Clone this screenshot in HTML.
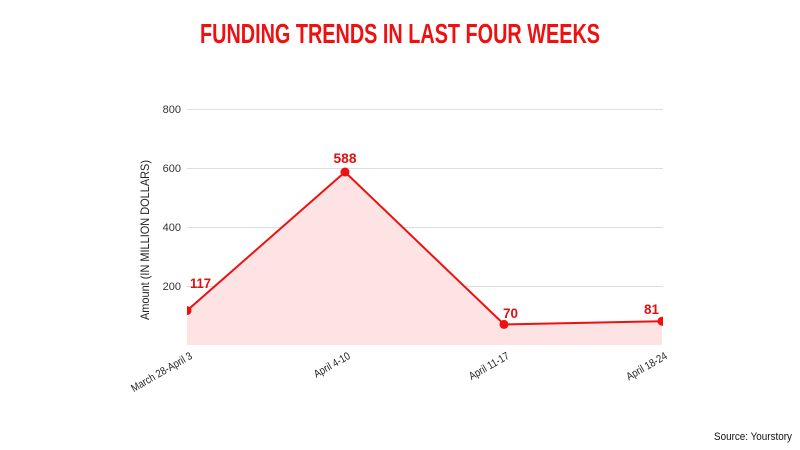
<!DOCTYPE html>
<html><head><meta charset="utf-8"><style>body{margin:0;background:#fff}svg{display:block}</style></head>
<body>
<svg width="800" height="450" xmlns="http://www.w3.org/2000/svg" font-family="Liberation Sans, sans-serif">
<rect width="800" height="450" fill="#fff"/>
<text x="400" y="43" text-anchor="middle" font-size="28" font-weight="bold" fill="#ee1111" textLength="400" lengthAdjust="spacingAndGlyphs">FUNDING TRENDS IN LAST FOUR WEEKS</text>
<g stroke="#dddddd" stroke-width="1">
<line x1="187" y1="109.5" x2="663" y2="109.5"/>
<line x1="187" y1="168.5" x2="663" y2="168.5"/>
<line x1="187" y1="227.5" x2="663" y2="227.5"/>
<line x1="187" y1="286.5" x2="663" y2="286.5"/>
</g>
<g font-size="11" fill="#333" text-anchor="end">
<text x="181" y="113">800</text>
<text x="181" y="172">600</text>
<text x="181" y="231">400</text>
<text x="181" y="290">200</text>
</g>
<text transform="translate(149,240) rotate(-90)" font-size="12" fill="#222" text-anchor="middle" textLength="160" lengthAdjust="spacingAndGlyphs">Amount (IN MILLION DOLLARS)</text>
<clipPath id="c"><rect x="187" y="0" width="476" height="346"/></clipPath>
<g clip-path="url(#c)">
<polygon points="187,310.6 345,172 504,324.4 662,321.2 662,345 187,345" fill="#fde3e3"/>
<polyline points="187,310.6 345,172 504,324.4 662,321.2" fill="none" stroke="#ee1111" stroke-width="2"/>
<g fill="#ee1111"><circle cx="187" cy="310.6" r="4.5"/><circle cx="345" cy="172" r="4.5"/><circle cx="504" cy="324.4" r="4.5"/><circle cx="662" cy="321.2" r="4.5"/></g>
</g>
<g font-size="14" font-weight="bold" fill="#dd1111">
<text x="190" y="288" textLength="21" lengthAdjust="spacingAndGlyphs">117</text>
<text x="345" y="163" text-anchor="middle" textLength="23" lengthAdjust="spacingAndGlyphs">588</text>
<text x="503" y="318" textLength="15" lengthAdjust="spacingAndGlyphs">70</text>
<text x="659" y="314" text-anchor="end" textLength="15" lengthAdjust="spacingAndGlyphs">81</text>
</g>
<g font-size="11" fill="#222" text-anchor="end">
<text transform="translate(193,358) rotate(-30) scale(0.85,1)">March 28-April 3</text>
<text transform="translate(351,358) rotate(-30) scale(0.85,1)">April 4-10</text>
<text transform="translate(510,358) rotate(-30) scale(0.85,1)">April 11-17</text>
<text transform="translate(668,358) rotate(-30) scale(0.85,1)">April 18-24</text>
</g>
<text x="792" y="440" font-size="11" fill="#111" text-anchor="end" textLength="78" lengthAdjust="spacingAndGlyphs">Source: Yourstory</text>
</svg>
</body></html>
